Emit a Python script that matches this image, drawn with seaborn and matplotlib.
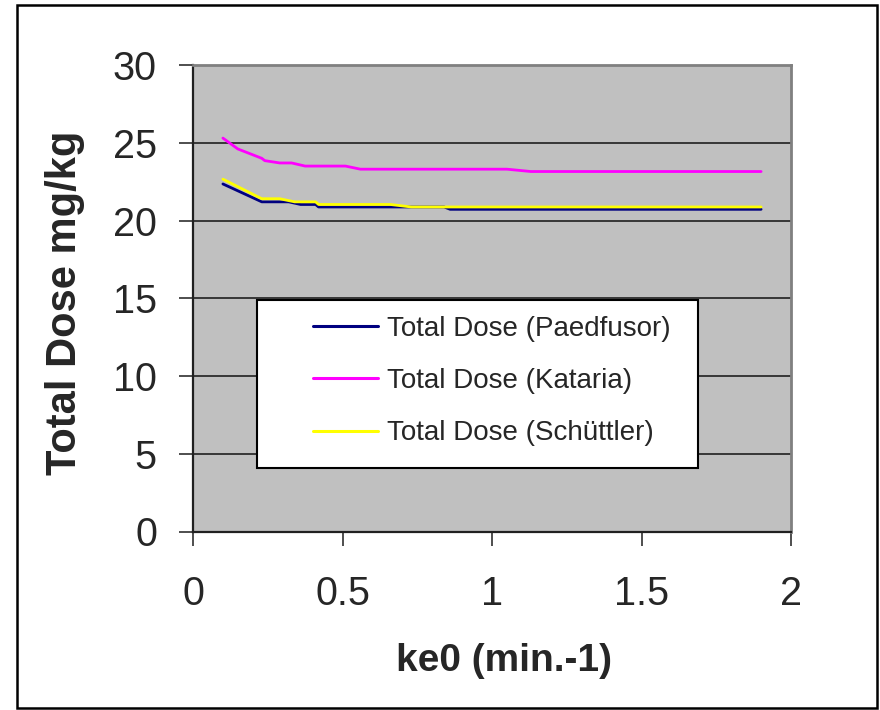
import matplotlib
matplotlib.use("Agg")
import matplotlib.pyplot as plt
from matplotlib.patches import Rectangle
import seaborn as sns
import pandas as pd

# ---- data ----
ke0_paedfusor = [0.10, 0.23, 0.32, 0.36, 0.41, 0.42, 0.84, 0.86, 1.90]
dose_paedfusor = [22.35, 21.2, 21.2, 21.03, 21.03, 20.87, 20.87, 20.72, 20.72]

ke0_kataria = [0.10, 0.15, 0.23, 0.24, 0.29, 0.33, 0.375, 0.51, 0.56, 1.05, 1.13, 1.90]
dose_kataria = [25.3, 24.6, 24.0, 23.85, 23.7, 23.7, 23.5, 23.5, 23.3, 23.3, 23.15, 23.15]

ke0_schuettler = [0.10, 0.23, 0.29, 0.34, 0.41, 0.42, 0.66, 0.73, 1.90]
dose_schuettler = [22.66, 21.4, 21.4, 21.2, 21.2, 21.03, 21.03, 20.87, 20.87]

series_names = ["Total Dose (Paedfusor)", "Total Dose (Kataria)", "Total Dose (Schüttler)"]
series_colors = ["#000080", "#FF00FF", "#FFFF00"]
x_ticks = [0, 0.5, 1, 1.5, 2]
x_tick_labels = ["0", "0.5", "1", "1.5", "2"]
y_ticks = [0, 5, 10, 15, 20, 25, 30]

rows = []
for name, xs, ys in zip(series_names,
                        [ke0_paedfusor, ke0_kataria, ke0_schuettler],
                        [dose_paedfusor, dose_kataria, dose_schuettler]):
    for i, (x, y) in enumerate(zip(xs, ys)):
        rows.append({"ke0": x, "dose": y, "series": name, "order": i})
df = pd.DataFrame(rows)

sns.set_style("white")
plt.rcParams["font.family"] = ["Liberation Sans", "DejaVu Sans"]

fig = plt.figure(figsize=(8.8, 7.1), dpi=100)
ax = fig.add_axes([193 / 880, 1 - 531.5 / 710, (791 - 193) / 880, (531.5 - 65) / 710])
ax.set_facecolor("#C0C0C0")

sns.lineplot(data=df, x="ke0", y="dose", hue="series", hue_order=series_names,
             palette=dict(zip(series_names, series_colors)), sort=False,
             estimator=None, units="series", linewidth=2.0, ax=ax, legend=False, zorder=3)

ax.set_xlim(0, 2)
ax.set_ylim(0, 30)
ax.set_xticks(x_ticks)
ax.set_xticklabels(x_tick_labels)
ax.set_yticks(y_ticks)
ax.yaxis.grid(True, color="#202020", linewidth=1.2, zorder=1)
ax.xaxis.grid(False)
ax.set_axisbelow(True)

ax.tick_params(axis="both", direction="out", length=10, width=1.2, color="#303030",
               labelsize=28.5)
ax.tick_params(axis="x", pad=21)
ax.tick_params(axis="y", pad=16)
ax.tick_params(left=True, bottom=True)

for s in ["left", "bottom"]:
    ax.spines[s].set_color("#202020")
    ax.spines[s].set_linewidth(1.6)
for s in ["top", "right"]:
    ax.spines[s].set_color("#808080")
    ax.spines[s].set_linewidth(2.0)

ax.set_xlabel("ke0 (min.-1)", fontsize=28, fontweight="bold")
ax.set_ylabel("Total Dose mg/kg", fontsize=30, fontweight="bold")
ax.xaxis.set_label_coords(0.52, -0.24)
ax.yaxis.set_label_coords(-0.18, 0.49)

# legend box
lx0, lx1 = (256.7 - 193) / 598, (698 - 193) / 598
ly0, ly1 = (531.5 - 468) / 466.5, (531.5 - 300) / 466.5
ax.add_patch(Rectangle((lx0, ly0), lx1 - lx0, ly1 - ly0, transform=ax.transAxes,
                       facecolor="white", edgecolor="black", linewidth=1.5, zorder=4))
handles = [plt.Line2D([], [], color=c, linewidth=2.2) for c in series_colors]
leg = ax.legend(handles, series_names, loc="center left",
                bbox_to_anchor=((313 - 193) / 598, (531.5 - 381) / 466.5),
                frameon=False, fontsize=20, handlelength=2.35, handletextpad=0.3,
                labelspacing=0.95, borderpad=0, borderaxespad=0)
leg.set_zorder(5)

fig.patches.append(Rectangle((17 / 880, 1 - 708 / 710), 860 / 880, 703 / 710,
                             transform=fig.transFigure, fill=False,
                             edgecolor="black", linewidth=1.8))

fig.savefig("out.png", dpi=100)
